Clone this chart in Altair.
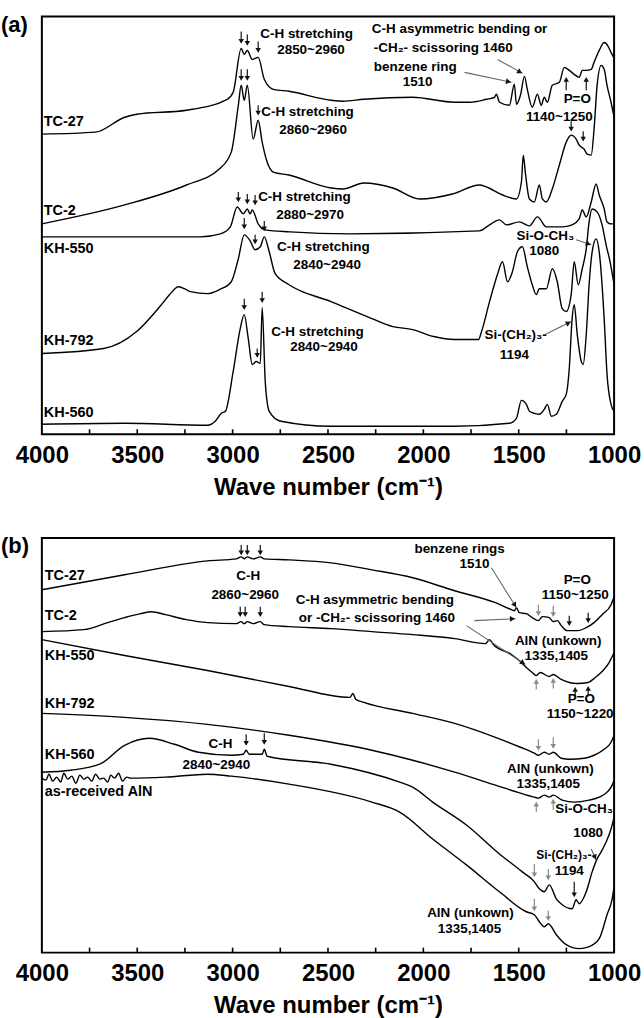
import math
import altair as alt
import pandas as pd

FONT = "Liberation Sans"
W = 574
HA, HB = 419, 416
XTITLE = "Wave number (cm⁻¹)"
TICK_LABELS = [4000, 3500, 3000, 2500, 2000, 1500, 1000]
MINOR_TICKS = [3750, 3500, 3250, 3000, 2750, 2500, 2250, 2000, 1750, 1500, 1250]

# ---------------- panel (a) spectra ----------------
A_TC27_WN = [4000, 3718, 3566, 3503, 3242, 3028, 2997, 2955, 2939, 2923, 2897, 2866, 2834, 2787, 2704, 2484, 2422, 2312, 2056, 1836, 1758, 1669, 1627, 1617, 1601, 1549, 1523, 1512, 1491, 1470, 1455, 1429, 1402, 1382, 1366, 1350, 1324, 1287, 1261, 1235, 1209, 1183, 1167, 1146, 1120, 1105, 1078, 1052, 1037, 1016, 1000]
A_TC27_V = [301, 303, 318, 321, 325, 336, 343, 387, 381, 385, 376, 378, 356, 346, 344, 335, 334, 336, 338, 333, 333, 336, 338, 341, 333, 330, 351, 331, 340, 359, 346, 328, 341, 330, 338, 333, 350, 353, 368, 365, 361, 358, 365, 365, 366, 373, 385, 393, 391, 383, 377]

A_TC2_WN = [4000, 3566, 3242, 3070, 3007, 2970, 2955, 2939, 2923, 2892, 2866, 2845, 2819, 2787, 2704, 2484, 2422, 2312, 2160, 2019, 1847, 1706, 1669, 1585, 1512, 1486, 1476, 1465, 1444, 1418, 1392, 1376, 1355, 1324, 1287, 1251, 1225, 1199, 1183, 1157, 1141, 1120, 1105, 1089, 1068, 1052, 1037, 1016, 1000]
A_TC2_V = [211, 230, 250, 266, 283, 330, 350, 335, 350, 296, 315, 293, 273, 263, 260, 247, 246, 252, 247, 236, 241, 250, 248, 240, 236, 253, 280, 262, 236, 233, 250, 236, 233, 246, 270, 293, 300, 296, 290, 286, 281, 280, 306, 350, 370, 366, 350, 333, 318]

A_KH550_WN = [4000, 3169, 3064, 3012, 2976, 2944, 2923, 2908, 2897, 2866, 2829, 2699, 2385, 1706, 1653, 1601, 1564, 1497, 1444, 1402, 1355, 1272, 1220, 1183, 1167, 1146, 1120, 1094, 1078, 1052, 1037, 1016, 1000]
A_KH550_V = [198, 198, 201, 208, 228, 221, 226, 221, 225, 211, 205, 203, 201, 204, 210, 215, 210, 213, 209, 218, 208, 208, 210, 216, 225, 218, 233, 251, 240, 226, 213, 211, 211]

A_KH792_WN = [4000, 3676, 3503, 3373, 3331, 3284, 3253, 3221, 3132, 3070, 3007, 2970, 2939, 2908, 2882, 2855, 2834, 2808, 2777, 2704, 2484, 2270, 2160, 2056, 1946, 1836, 1711, 1695, 1653, 1612, 1585, 1559, 1533, 1507, 1481, 1455, 1429, 1408, 1392, 1355, 1324, 1298, 1272, 1251, 1225, 1209, 1188, 1167, 1146, 1131, 1115, 1089, 1063, 1042, 1021, 1000]
A_KH792_V = [81, 86, 103, 130, 140, 148, 146, 143, 141, 145, 153, 176, 200, 194, 185, 188, 198, 183, 161, 150, 133, 116, 108, 105, 98, 95, 95, 103, 133, 160, 173, 153, 163, 183, 188, 168, 150, 140, 146, 146, 166, 153, 126, 123, 140, 173, 150, 166, 186, 213, 226, 223, 210, 190, 173, 150]

A_KH560_WN = [4000, 3566, 3132, 3091, 3059, 3038, 2997, 2960, 2939, 2918, 2897, 2876, 2855, 2845, 2829, 2808, 2746, 2484, 1836, 1549, 1512, 1486, 1460, 1444, 1418, 1392, 1366, 1350, 1329, 1303, 1272, 1251, 1235, 1220, 1209, 1193, 1172, 1162, 1146, 1131, 1115, 1094, 1078, 1052, 1037, 1016, 1000]
A_KH560_V = [10, 11, 9, 13, 21, 23, 63, 106, 120, 96, 70, 73, 71, 127, 53, 23, 13, 8, 8, 11, 16, 34, 30, 23, 21, 20, 25, 30, 18, 20, 33, 40, 66, 116, 130, 100, 73, 70, 100, 150, 183, 196, 183, 116, 60, 30, 23]

# ---------------- panel (b) spectra ----------------
B_TC27_WN = [4000, 3566, 3132, 2981, 2955, 2939, 2923, 2892, 2855, 2834, 2704, 2484, 2270, 2056, 1836, 1622, 1538, 1523, 1512, 1497, 1460, 1429, 1397, 1376, 1340, 1319, 1298, 1277, 1246, 1188, 1146, 1105, 1063, 1016, 1000]
B_TC27_V = [364, 379, 393, 395, 397, 395, 397, 395, 397, 395, 394, 391, 384, 376, 363, 351, 344, 343, 346, 341, 340, 336, 333, 337, 336, 332, 333, 328, 323, 323, 326, 331, 339, 349, 357]

B_TC2_WN = [4000, 3780, 3655, 3566, 3483, 3425, 3352, 3242, 3132, 2981, 2955, 2939, 2923, 2892, 2855, 2834, 2704, 2484, 2270, 2056, 1836, 1674, 1653, 1633, 1538, 1486, 1460, 1429, 1408, 1387, 1340, 1319, 1277, 1235, 1193, 1136, 1099, 1063, 1026, 1000]
B_TC2_V = [322, 324, 331, 336, 340, 342, 339, 334, 331, 330, 332, 330, 332, 330, 332, 329, 327, 325, 322, 319, 315, 310, 314, 309, 299, 291, 286, 281, 278, 281, 277, 279, 274, 271, 270, 271, 276, 282, 291, 301]

B_KH550_WN = [4000, 3566, 3132, 2704, 2385, 2369, 2354, 2312, 2056, 1836, 1622, 1491, 1418, 1397, 1366, 1340, 1319, 1277, 1235, 1157, 1105, 1052, 1016, 1000]
B_KH550_V = [314, 298, 283, 267, 256, 260, 254, 251, 240, 230, 216, 206, 200, 198, 201, 199, 201, 195, 194, 195, 198, 204, 211, 218]

B_KH792_WN = [4000, 3566, 3132, 2704, 2270, 2056, 1836, 1622, 1491, 1418, 1397, 1366, 1340, 1319, 1272, 1209, 1131, 1078, 1037, 1010, 1000]
B_KH792_V = [240, 236, 229, 218, 203, 193, 181, 168, 160, 156, 155, 158, 156, 158, 153, 151, 153, 156, 161, 168, 173]

B_KH560_WN = [4000, 3848, 3697, 3566, 3436, 3305, 3179, 3007, 2944, 2929, 2913, 2845, 2834, 2819, 2484, 2124, 2056, 1951, 1774, 1601, 1481, 1418, 1392, 1366, 1340, 1303, 1272, 1220, 1199, 1183, 1146, 1115, 1089, 1068, 1042, 1016, 1000]
B_KH560_V = [181, 183, 189, 208, 215, 209, 201, 198, 199, 203, 199, 199, 204, 197, 189, 171, 166, 151, 128, 99, 81, 71, 64, 61, 68, 54, 48, 44, 53, 49, 61, 81, 94, 101, 111, 124, 136]

B_ALN_WN = [4000, 3979, 3963, 3943, 3922, 3901, 3885, 3864, 3843, 3822, 3801, 3780, 3760, 3739, 3718, 3697, 3676, 3655, 3639, 3618, 3598, 3577, 3556, 3535, 3352, 3132, 3007, 2704, 2270, 2124, 1951, 1774, 1601, 1460, 1418, 1392, 1366, 1345, 1303, 1251, 1183, 1131, 1078, 1037, 1010, 1000]
B_ALN_V = [175, 173, 179, 172, 176, 171, 180, 174, 177, 170, 178, 174, 176, 172, 179, 174, 175, 171, 178, 175, 180, 172, 176, 175, 176, 179, 177, 169, 151, 141, 114, 88, 61, 41, 38, 31, 26, 29, 18, 8, 4, 6, 14, 38, 54, 66]

# ---------------- annotations ----------------
# small arrows: (wavenumber, tip value, direction, length, colour)
A_ARROWS = [
    (2955, 391, "down", 13, "k"), (2923, 389, "down", 12, "k"), (2866, 382, "down", 12, "k"),
    (2955, 354, "down", 12, "k"), (2923, 354, "down", 12, "k"), (2866, 319, "down", 11, "k"),
    (2970, 232, "down", 11, "k"), (2923, 230, "down", 11, "k"), (2882, 229, "down", 11, "k"),
    (2939, 205, "down", 12, "k"), (2882, 190, "down", 10, "k"), (2834, 203, "down", 11, "k"),
    (2939, 124, "down", 12, "k"), (2871, 76, "down", 10, "k"), (2845, 131, "down", 12, "k"),
    (1251, 359, "up", 14, "k"), (1146, 359, "up", 14, "k"),
    (1225, 303, "down", 11, "k"), (1162, 293, "down", 11, "k"),
]
B_ARROWS = [
    (2955, 398, "down", 11, "k"), (2923, 398, "down", 11, "k"), (2855, 398, "down", 11, "k"),
    (2960, 336, "down", 11, "k"), (2934, 336, "down", 11, "k"), (2855, 336, "down", 11, "k"),
    (1397, 337, "down", 12, "g"), (1319, 336, "down", 12, "g"),
    (1235, 327, "down", 11, "k"), (1136, 330, "down", 11, "k"),
    (1408, 275, "up", 11, "g"), (1319, 276, "up", 11, "g"),
    (1204, 267, "up", 11, "k"), (1136, 268, "up", 11, "k"),
    (1397, 202, "down", 12, "g"), (1319, 204, "down", 12, "g"),
    (1408, 152, "up", 11, "g"), (1319, 155, "up", 12, "g"),
    (2929, 207, "down", 12, "k"), (2834, 208, "down", 12, "k"),
    (1418, 75, "down", 14, "g"), (1345, 72, "down", 12, "g"),
    (1209, 55, "down", 16, "k"),
    (1418, 41, "down", 13, "g"), (1345, 31, "down", 11, "g"),
]
# leader arrows: (from wn, from value, to wn, to value)
A_POINTERS = [(1784, 363, 1538, 353), (1611, 376, 1480, 362), (1199, 195, 1120, 190), (1361, 100, 1225, 113)]
B_POINTERS = [(1643, 386, 1512, 346), (1732, 333, 1517, 335), (1774, 328, 1465, 289), (1120, 104, 1094, 93)]

# texts: (text, wn, value, align, font size)
A_TEXTS = [
    ("(a)", 4214, 410, "left", 22),
    ("TC-27", 3990, 313, "left", 14.5), ("TC-2", 3990, 224, "left", 14.5),
    ("KH-550", 3990, 186, "left", 14.5), ("KH-792", 3990, 94, "left", 14.5),
    ("KH-560", 3990, 21, "left", 14.5),
    ("C-H stretching", 2855, 401, "left", 13.5), ("2850~2960", 2589, 385, "center", 13.5),
    ("C-H asymmetric bending or", 2270, 406, "left", 13.5),
    ("-CH₂- scissoring 1460", 2260, 387, "left", 13.5),
    ("benzene ring", 2260, 368, "left", 13.5), ("1510", 2030, 353, "center", 13.5),
    ("P=O", 1193, 336, "center", 13.5), ("1140~1250", 1287, 318, "center", 13.5),
    ("C-H stretching", 2850, 323, "left", 13.5), ("2860~2960", 2578, 305, "center", 13.5),
    ("C-H stretching", 2866, 238, "left", 13.5), ("2880~2970", 2594, 220, "center", 13.5),
    ("Si-O-CH₃", 1512, 199, "left", 13.5), ("1080", 1366, 184, "center", 13.5),
    ("C-H stretching", 2767, 188, "left", 13.5), ("2840~2940", 2505, 170, "center", 13.5),
    ("Si-(CH₂)₃-", 1679, 100, "left", 13.5), ("1194", 1523, 79, "center", 13.5),
    ("C-H stretching", 2798, 103, "left", 13.5), ("2840~2940", 2521, 87, "center", 13.5),
]
B_TEXTS = [
    ("(b)", 4214, 408, "left", 22),
    ("TC-27", 3985, 378, "left", 14.5), ("TC-2", 3985, 338, "left", 14.5),
    ("KH-550", 3985, 298, "left", 14.5), ("KH-792", 3985, 249, "left", 14.5),
    ("KH-560", 3985, 198, "left", 14.5), ("as-received AlN", 3985, 161, "left", 14.5),
    ("C-H", 2918, 378, "center", 13.5), ("2860~2960", 2934, 359, "center", 13.5),
    ("benzene rings", 1810, 405, "center", 13.5), ("1510", 1732, 390, "center", 13.5),
    ("P=O", 1193, 374, "center", 13.5), ("1150~1250", 1204, 359, "center", 13.5),
    ("C-H asymmetric bending", 2254, 354, "center", 13.5),
    ("or -CH₂- scissoring 1460", 2244, 336, "center", 13.5),
    ("AlN (unkown)", 1293, 313, "center", 13.5), ("1335,1405", 1303, 298, "center", 13.5),
    ("P=O", 1172, 254, "center", 13.5), ("1150~1220", 1178, 239, "center", 13.5),
    ("AlN (unkown)", 1334, 184, "center", 13.5), ("1335,1405", 1345, 169, "center", 13.5),
    ("C-H", 3064, 209, "center", 13.5), ("2840~2940", 3085, 188, "center", 13.5),
    ("Si-O-CH₃", 1157, 144, "center", 13.5), ("1080", 1136, 120, "center", 13.5),
    ("Si-(CH₂)₃-", 1408, 98, "left", 12), ("1194", 1235, 82, "center", 13.5),
    ("AlN (unkown)", 1753, 40, "center", 13.5), ("1335,1405", 1758, 24, "center", 13.5),
]

A_SERIES = [("TC-27", A_TC27_WN, A_TC27_V), ("TC-2", A_TC2_WN, A_TC2_V),
            ("KH-550", A_KH550_WN, A_KH550_V), ("KH-792", A_KH792_WN, A_KH792_V),
            ("KH-560", A_KH560_WN, A_KH560_V)]
B_SERIES = [("TC-27", B_TC27_WN, B_TC27_V), ("TC-2", B_TC2_WN, B_TC2_V),
            ("KH-550", B_KH550_WN, B_KH550_V), ("KH-792", B_KH792_WN, B_KH792_V),
            ("KH-560", B_KH560_WN, B_KH560_V), ("AlN", B_ALN_WN, B_ALN_V)]

COLS = {"k": "#111111", "g": "#8a8a8a"}


def panel(series, arrows, pointers, texts, H):
    xs = alt.Scale(domain=[1000, 4000], reverse=True, nice=False, zero=False)
    ys = alt.Scale(domain=[0, H], nice=False, zero=False)
    xaxis = alt.Axis(values=TICK_LABELS, format="d", labelFontSize=24, labelFont=FONT,
                     labelFontWeight="bold", labelColor="black", ticks=False, domain=False,
                     grid=False, labelPadding=9, labelFlush=False, labelOverlap=False,
                     titleFontSize=24, titleFont=FONT, titleFontWeight="bold",
                     titleColor="black", titlePadding=8)

    def X(f):
        return alt.X(f, type="quantitative", scale=xs, axis=xaxis, title=XTITLE)

    def Y(f):
        return alt.Y(f, type="quantitative", scale=ys, axis=None)

    rows = []
    for name, wns, vs in series:
        for i, (w, v) in enumerate(zip(wns, vs)):
            rows.append({"series": name, "wn": w, "v": v, "o": i})
    cdf = pd.DataFrame(rows)
    lines = alt.Chart(cdf).mark_line(color="black", strokeWidth=1.4, interpolate="monotone").encode(
        x=X("wn"), y=Y("v"), detail="series:N", order="o:Q")

    ticks = alt.Chart(pd.DataFrame({"wn": MINOR_TICKS})).mark_rule(color="black", strokeWidth=1.6).encode(
        x=X("wn"), y=alt.value(H), y2=alt.value(H - 5))

    arows = []
    for w, tip, d, ln, c in arrows:
        s = 1 if d == "down" else -1
        arows.append({"wn": w, "v": tip + s * ln, "v2": tip + s * 3, "hv": tip + s * 3,
                      "shape": "triangle-down" if d == "down" else "triangle-up",
                      "col": COLS[c]})
    adf = pd.DataFrame(arows)
    stems = alt.Chart(adf).mark_rule(strokeWidth=1.2).encode(
        x=X("wn"), y=Y("v"), y2=alt.Y2("v2"), color=alt.Color("col:N", scale=None))
    heads = alt.Chart(adf).mark_point(filled=True, size=30, opacity=1, strokeWidth=0).encode(
        x=X("wn"), y=Y("hv"), shape=alt.Shape("shape:N", scale=None),
        color=alt.Color("col:N", scale=None))

    prow = []
    for x1, y1, x2, y2 in pointers:
        dxp = -(x2 - x1) * W / 3000.0
        dyp = -(y2 - y1)
        ang = math.degrees(math.atan2(dxp, -dyp)) % 360
        L = math.hypot(dxp, dyp)
        back = 3.0 / L
        hx = x2 - (x2 - x1) * back
        hy = y2 - (y2 - y1) * back
        prow.append({"wn": x1, "v": y1, "wn2": x2, "v2": y2, "hx": hx, "hy": hy, "ang": ang})
    pdf = pd.DataFrame(prow)
    plines = alt.Chart(pdf).mark_rule(color="#666666", strokeWidth=1.1).encode(
        x=X("wn"), x2=alt.X2("wn2"), y=Y("v"), y2=alt.Y2("v2"))
    pheads = alt.Chart(pdf).mark_point(shape="triangle-up", filled=True, size=34, color="#111111",
                                       opacity=1, strokeWidth=0).encode(
        x=X("hx"), y=Y("hy"), angle=alt.Angle("ang:Q", scale=None))

    tdf = pd.DataFrame([{"text": t, "wn": w, "v": v, "al": a, "fs": f} for t, w, v, a, f in texts])
    tlayers = []
    for al in ["left", "center"]:
        tlayers.append(alt.Chart(tdf).transform_filter(alt.datum.al == al).mark_text(
            font=FONT, fontWeight="bold", color="black", align=al, baseline="middle").encode(
            x=X("wn"), y=Y("v"), text="text:N", size=alt.Size("fs:Q", scale=None)))

    return alt.layer(lines, ticks, stems, heads, plines, pheads, *tlayers).properties(width=W, height=H)


pa = panel(A_SERIES, A_ARROWS, A_POINTERS, A_TEXTS, HA)
pb = panel(B_SERIES, B_ARROWS, B_POINTERS, B_TEXTS, HB)

chart = alt.vconcat(pa, pb, spacing=34).properties(
    padding={"left": 0, "top": 12, "right": 2, "bottom": 0},
    background="white",
).configure_view(stroke="black", strokeWidth=2)

chart.save("out.html", embed_options={"renderer": "svg", "actions": False})
